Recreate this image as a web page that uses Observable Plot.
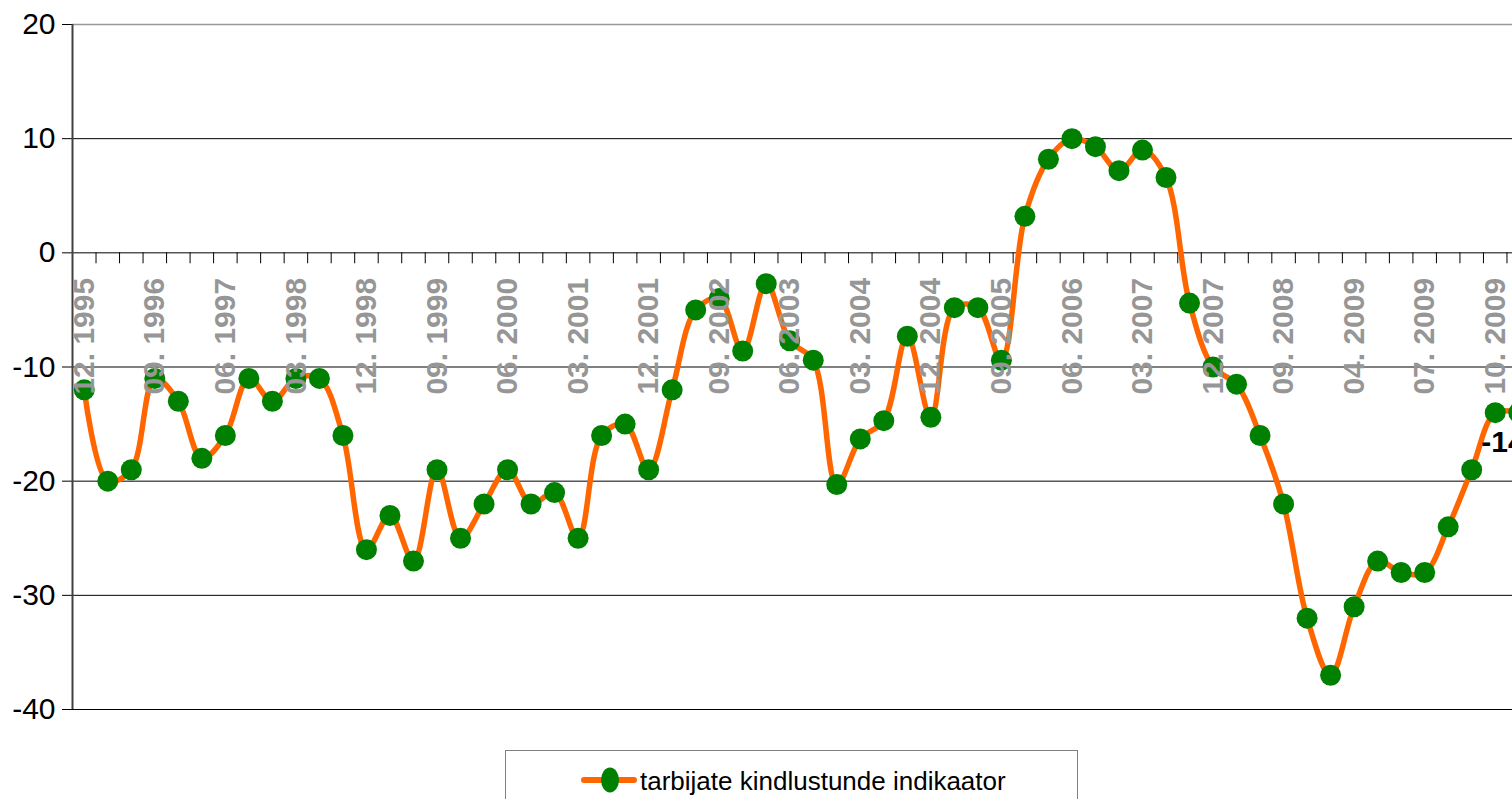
<!DOCTYPE html>
<html>
<head>
<meta charset="utf-8">
<script src="https://cdn.jsdelivr.net/npm/d3@7"></script>
<script src="https://cdn.jsdelivr.net/npm/@observablehq/plot@0.6"></script>
<style>
  html, body { margin: 0; padding: 0; background: #fff; overflow: hidden; width: 1512px; height: 799px; }
  #chart { position: absolute; left: 0; top: 0; width: 1512px; overflow: hidden; }
  #legend { position: absolute; left: 505px; top: 750px; width: 573px; height: 49px; border: 1px solid #808080; border-bottom: none; box-sizing: border-box; background: #fff; overflow: hidden; }
  #legend svg { position: absolute; left: 0; top: 0; }
</style>
</head>
<body>
<div id="chart"></div>
<div id="legend"></div>
<script>
// ---- data ----
const categories = ["12. 1995","03. 1996","06. 1996","09. 1996","12. 1996","03. 1997","06. 1997","09. 1997","12. 1997","03. 1998","06. 1998","09. 1998","12. 1998","03. 1999","06. 1999","09. 1999","12. 1999","03. 2000","06. 2000","09. 2000","12. 2000","03. 2001","06. 2001","09. 2001","12. 2001","03. 2002","06. 2002","09. 2002","12. 2002","03. 2003","06. 2003","09. 2003","12. 2003","03. 2004","06. 2004","09. 2004","12. 2004","03. 2005","06. 2005","09. 2005","12. 2005","03. 2006","06. 2006","09. 2006","12. 2006","03. 2007","06. 2007","09. 2007","12. 2007","03. 2008","06. 2008","09. 2008","12. 2008","03. 2009","04. 2009","05. 2009","06. 2009","07. 2009","08. 2009","09. 2009","10. 2009","11. 2009"];
const values = [-12,-20,-19,-11,-13,-18,-16,-11,-13,-11,-11,-16,-26,-23,-27,-19,-25,-22,-19,-22,-21,-25,-16,-15,-19,-12,-5,-4,-8.6,-2.7,-7.7,-9.4,-20.3,-16.3,-14.7,-7.3,-14.4,-4.8,-4.8,-9.4,3.2,8.2,10,9.3,7.2,9,6.6,-4.4,-10,-11.5,-16,-22,-32,-37,-31,-27,-28,-28,-24,-19,-14,-14];
const yTicks = [-40,-30,-20,-10,0,10,20];
const seriesName = "tarbijate kindlustunde indikaator";
const labelledCategory = "10. 2009";

// ---- build ----
const n = categories.length;
const data = values.map((v, i) => ({i: i + 0.5, cat: categories[i], v}));
const axisLabels = data.filter((d, k) => k % 3 === 0);
const dataLabel = data.filter(d => d.cat === labelledCategory);

const chart = Plot.plot({
  width: 1512,
  height: 730,
  marginLeft: 72,
  marginRight: -18,
  marginTop: 24,
  marginBottom: 21,
  style: {fontFamily: "'Liberation Sans', Arial, sans-serif", fontSize: "30px", background: "transparent", overflow: "hidden"},
  x: {domain: [0, n], axis: null},
  y: {domain: [-40, 20], ticks: yTicks, tickSize: 10, tickPadding: 7, tickFormat: d => String(d), label: null},
  marks: [
    Plot.ruleY(yTicks.filter(d => d !== 20), {stroke: "#000", strokeWidth: 1}),
    Plot.ruleY([20], {stroke: "#999", strokeWidth: 1.5}),
    Plot.ruleX(d3.range(n + 1), {y1: 0, y2: -0.96, stroke: "#000", strokeWidth: 1}),
    Plot.ruleX([0], {stroke: "#404040", strokeWidth: 2}),
    Plot.line(data, {x: "i", y: "v", curve: "catmull-rom", stroke: "#FF6600", strokeWidth: 5.5}),
    Plot.dot(data, {x: "i", y: "v", r: 10.5, fill: "#008000", stroke: "none"}),
    Plot.text(axisLabels, {x: "i", y: () => 0, text: "cat", rotate: -90, textAnchor: "end", dy: 25, fill: "#969696", fontWeight: "bold", fontSize: 30}),
    Plot.text(dataLabel, {x: "i", y: "v", text: d => String(Math.round(d.v)), textAnchor: "start", dx: -14, dy: 30, fill: "#000", fontWeight: "bold", fontSize: 30})
  ]
});
document.getElementById("chart").appendChild(chart);

// ---- legend ----
const lg = d3.select("#legend").append("svg").attr("width", 573).attr("height", 49);
lg.append("line").attr("x1", 78).attr("x2", 128).attr("y1", 29).attr("y2", 29)
  .attr("stroke", "#FF6600").attr("stroke-width", 6).attr("stroke-linecap", "round");
lg.append("ellipse").attr("cx", 104).attr("cy", 29).attr("rx", 9).attr("ry", 12.5).attr("fill", "#008000");
lg.append("text").attr("x", 134).attr("y", 30).attr("dy", "0.35em")
  .attr("font-family", "'Liberation Sans', Arial, sans-serif").attr("font-size", 26).attr("fill", "#000")
  .text(seriesName);
</script>
</body>
</html>
